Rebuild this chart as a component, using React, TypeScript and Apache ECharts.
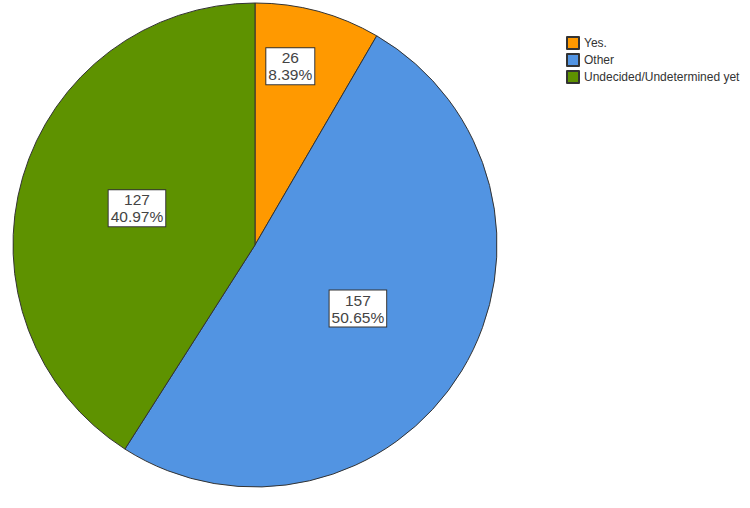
import React, { useEffect, useRef } from "react";
import * as echarts from "echarts";

const categories = ["Yes.", "Other", "Undecided/Undetermined yet"];
const values = [26, 157, 127];
const colors = ["#FF9900", "#5294E2", "#5E9200"];

export default function App() {
  const ref = useRef<HTMLDivElement>(null);
  useEffect(() => {
    if (!ref.current) return;
    const chart = echarts.init(ref.current, undefined, { renderer: "svg" });
    const total = values.reduce((a, b) => a + b, 0);
    const offsets = [[3, -59], [-3, -1], [1, -2]];
    chart.setOption({
      animation: false,
      backgroundColor: "#ffffff",
      legend: {
        orient: "vertical",
        left: 561,
        top: 31,
        itemWidth: 12,
        itemHeight: 12,
        itemGap: 3,
        icon: "rect",
        textStyle: { fontFamily: "Liberation Sans, Arial, sans-serif", fontSize: 12, color: "#333" },
        data: categories,
      },
      series: [
        {
          type: "pie",
          center: [255, 245],
          radius: 242,
          startAngle: 90,
          clockwise: true,
          labelLine: { show: false },
          itemStyle: { borderColor: "#333", borderWidth: 1 },
          label: {
            show: true,
            position: "inside",
            formatter: (p: any) => `${p.value}\n${((p.value / total) * 100).toFixed(2)}%`,
            fontFamily: "Liberation Sans, Arial, sans-serif",
            fontSize: 15.5,
            lineHeight: 17,
            color: "#444",
            backgroundColor: "#ffffff",
            borderColor: "#333",
            borderWidth: 1,
            padding: [1, 2, 1, 2],
            align: "center",
          },
          data: categories.map((name, i) => ({
            name,
            value: values[i],
            itemStyle: { color: colors[i] },
            label: { offset: offsets[i] },
          })),
        },
      ],
    });
    return () => chart.dispose();
  }, []);
  return (
    <div
      ref={ref}
      style={{ position: "absolute", left: 0, top: 0, width: 750, height: 508 }}
    />
  );
}
